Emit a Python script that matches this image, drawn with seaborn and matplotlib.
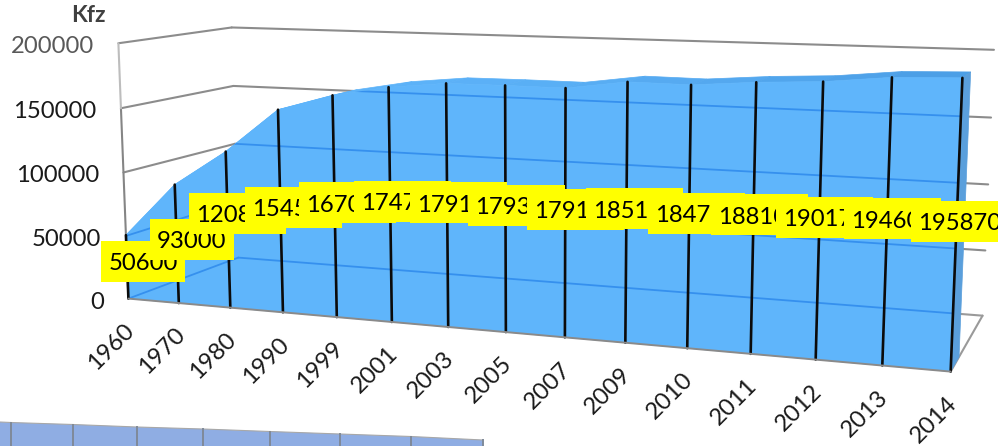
import numpy as np
import pandas as pd
import matplotlib
matplotlib.use("Agg")
import matplotlib.pyplot as plt
from matplotlib.colors import to_rgb
from matplotlib.patches import Polygon, Rectangle
import seaborn as sns

# Vehicle counts per year
years = ["1960", "1970", "1980", "1990", "1999", "2001", "2003", "2005",
         "2007", "2009", "2010", "2011", "2012", "2013", "2014"]
vehicles = [50600, 93000, 120800, 154500, 167000, 174700, 179100, 179300,
            179100, 185100, 184700, 188100, 190170, 194600, 195870]
value_ticks = [0, 50000, 100000, 150000, 200000]
VALUE_MAX = 200000

# Centres of the yellow value labels, screen pixels
label_cx = [143, 192, 237.5, 293.5, 347.5, 402.5, 458.5, 516.5,
            575.5, 634.5, 696.5, 759.5, 824.5, 892.5, 959.5]
label_cy = [261.5, 239.5, 213.5, 207.5, 202.5, 201.5, 202.5, 205.5,
            209.5, 208.5, 213.5, 214.5, 217.5, 218.5, 221.5]

# Column edges of the neighbouring panel cut off at the lower border
strip_x = [11, 73, 137, 203, 270, 340, 411, 483]
strip_top = [422.5, 424.5, 427, 429, 431.5, 434, 436.5, 440]

# Camera calibration: (category share, value share, depth) -> screen pixel
CAMERA_POINTS = [
    (0, 0, 0, 128.3, 299), (0, .25, 0, 126.7, 235.7), (0, .5, 0, 124, 172.3),
    (0, .75, 0, 120.7, 108.3), (0, 1, 0, 117.7, 43.3),
    (1, 0, 0, 951, 372), (1, 1, 0, 962.2, 71),
    (.5, 0, 0, 505.7, 332),
    (0, 0, 1, 237, 258), (0, .5, 1, 237, 143), (0, .75, 1, 232.5, 86), (0, 1, 1, 231.7, 27.7),
    (1, 0, 1, 982.3, 315), (1, .25, 1, 985.3, 250.7), (1, .5, 1, 988.3, 184.3),
    (1, .75, 1, 991, 117.7), (1, 1, 1, 994.3, 50.3),
]
AREA_DEPTH = 0.24

FRONT_BLUE = "#5FB5FB"
TOP_BLUE = "#4C9FE6"
SIDE_BLUE = "#5A9FDC"
GRID_BLUE = "#3590EE"
WALL_GREY = "#858585"
FONT = "Lato"
TEXT_SIZE = 17.2


def fit_camera(points):
    rows = []
    for u, v, d, x, y in points:
        x, y = x / 1000, y / 1000
        rows.append([u, v, d, 1, 0, 0, 0, 0, -x * u, -x * v, -x * d, -x])
        rows.append([0, 0, 0, 0, u, v, d, 1, -y * u, -y * v, -y * d, -y])
    return np.linalg.svd(np.array(rows))[2][-1].reshape(3, 4)


CAMERA = fit_camera(CAMERA_POINTS)


def project(category, value, depth=0.0):
    """Screen position of a category index and value at a given depth."""
    u, v, d = np.broadcast_arrays(np.asarray(category, float) / (len(years) - 1),
                                  np.asarray(value, float) / VALUE_MAX,
                                  np.asarray(depth, float))
    sx, sy, sw = (CAMERA[r, 0] * u + CAMERA[r, 1] * v + CAMERA[r, 2] * d + CAMERA[r, 3]
                  for r in range(3))
    return 1000 * sx / sw, 1000 * sy / sw


sns.set_theme(style="white")
plt.rcParams["font.family"] = [FONT, "DejaVu Sans"]

fig = plt.figure(figsize=(9.98, 4.46), dpi=100)
ax = fig.add_axes([0, 0, 1, 1])

n = len(years)
idx = np.arange(n)
last = n - 1


def wall_line(p0, p1, **kw):
    xs0, ys0 = project(*p0)
    xs1, ys1 = project(*p1)
    return ax.plot([xs0, xs1], [ys0, ys1], solid_capstyle="round", **kw)[0]


# Back wall and side wall gridlines
for tick in value_ticks:
    shade = "#8C8C8C" if tick else "#9A9A9A"
    wall_line((0, tick, 0), (0, tick, 1), color=shade, lw=1.5, zorder=1)
    wall_line((0, tick, 1), (last, tick, 1), color=shade, lw=1.5, zorder=1)
wall_line((last, 0, 0), (last, 0, 1), color="#9A9A9A", lw=1.5, zorder=1)

# Left axis edge, fading towards the top
wall_line((0, 0, 0), (0, 150000, 0), color=WALL_GREY, lw=1.5, zorder=1)
wall_line((0, 150000, 0), (0, 200000, 0), color="#BDBDBD", lw=1.5, zorder=1)

# The area: top surface (darkening to the right), right end cap, front face
fx, fy = project(idx, vehicles, 0)
bx, by = project(idx, vehicles, AREA_DEPTH)
for i in range(n - 1):
    share = (i / (n - 2)) ** 2
    shade = tuple((1 - share) * a + share * b
                  for a, b in zip(to_rgb(FRONT_BLUE), to_rgb(TOP_BLUE)))
    ax.add_patch(Polygon([(fx[i], fy[i]), (fx[i + 1], fy[i + 1]),
                          (bx[i + 1], by[i + 1]), (bx[i], by[i])],
                         fc=shade, ec=shade, lw=0.5, zorder=2))
x0, y0 = project(last, 0, 0)
x1, y1 = project(last, 0, AREA_DEPTH)
ax.add_patch(Polygon([(fx[-1], fy[-1]), (bx[-1], by[-1]), (x1, y1), (x0, y0)],
                     fc=SIDE_BLUE, ec=SIDE_BLUE, lw=0.5, zorder=2))

base_x, base_y = project(idx, np.zeros(n), 0)
front_pts = np.column_stack([np.r_[fx, base_x[::-1]], np.r_[fy, base_y[::-1]]])
front = Polygon(front_pts, fc=FRONT_BLUE, ec=FRONT_BLUE, lw=0.5, zorder=3)
ax.add_patch(front)

# Gridlines seen through the translucent area
for tick in value_ticks[:-1]:
    seen = wall_line((0, tick, 1), (last, tick, 1), color=GRID_BLUE, lw=1.3, zorder=4)
    seen.set_clip_path(front)
    seen = wall_line((0, tick, 0), (0, tick, 1), color=GRID_BLUE, lw=1.3, zorder=4)
    seen.set_clip_path(front)

# Drop lines from each value down to the floor
drops = pd.DataFrame({
    "year": np.r_[years, years],
    "sx": np.r_[fx, base_x],
    "sy": np.r_[fy, base_y],
})
sns.lineplot(data=drops, x="sx", y="sy", units="year", estimator=None,
             sort=False, color="#0B0B0B", lw=1.9, zorder=5, ax=ax, legend=False)
ax.set_xlim(0, 998)
ax.set_ylim(446, 0)
ax.set_axis_off()

# Front edge of the floor
ax.plot(base_x, base_y, color="#8A8A8A", lw=1.4, zorder=5)

# Value axis labels follow the left edge
for tick in value_ticks:
    tx, ty = project(0, tick, 0)
    ax.text(tx - 24.5, ty + 1.5, str(tick), ha="right", va="center_baseline",
            fontsize=TEXT_SIZE, color="#595959" if tick == VALUE_MAX else "#1A1A1A", zorder=6)
ax.text(88, 16, "Kfz", ha="center", va="center", fontsize=16.5,
        fontweight="bold", color="#404040", zorder=6)

# Category labels hang below the floor edge
for i, year in enumerate(years):
    ax.text(base_x[i] - 5, base_y[i] + 21, year, rotation=45, rotation_mode="anchor",
            ha="right", va="top", fontsize=TEXT_SIZE, color="#1A1A1A", zorder=6)

# Yellow value labels, later ones overlapping earlier ones
for i, value in enumerate(vehicles):
    w = 84 if value < 100000 else 97
    ax.add_patch(Rectangle((label_cx[i] - w / 2, label_cy[i] - 20.5), w, 41,
                           fc="#FFFF00", ec="none", zorder=10 + 2 * i))
    ax.text(label_cx[i], label_cy[i] + 0.5, str(value), ha="center", va="center_baseline",
            fontsize=TEXT_SIZE, color="black", zorder=11 + 2 * i, clip_on=True)

# Neighbouring panel at the lower border
ax.add_patch(Polygon([(0, 422), *zip(strip_x, strip_top), (strip_x[-1], 446), (0, 446)],
                     fc="#8FADE3", ec="none", zorder=1))
ax.plot([0, *strip_x], [422, *strip_top], color="#A8A8A8", lw=0.8, zorder=2)
ax.vlines(strip_x, np.array(strip_top) - 1, 446, color="#7F8A99", lw=1.4, zorder=2)

fig.savefig("out.png", dpi=100)
